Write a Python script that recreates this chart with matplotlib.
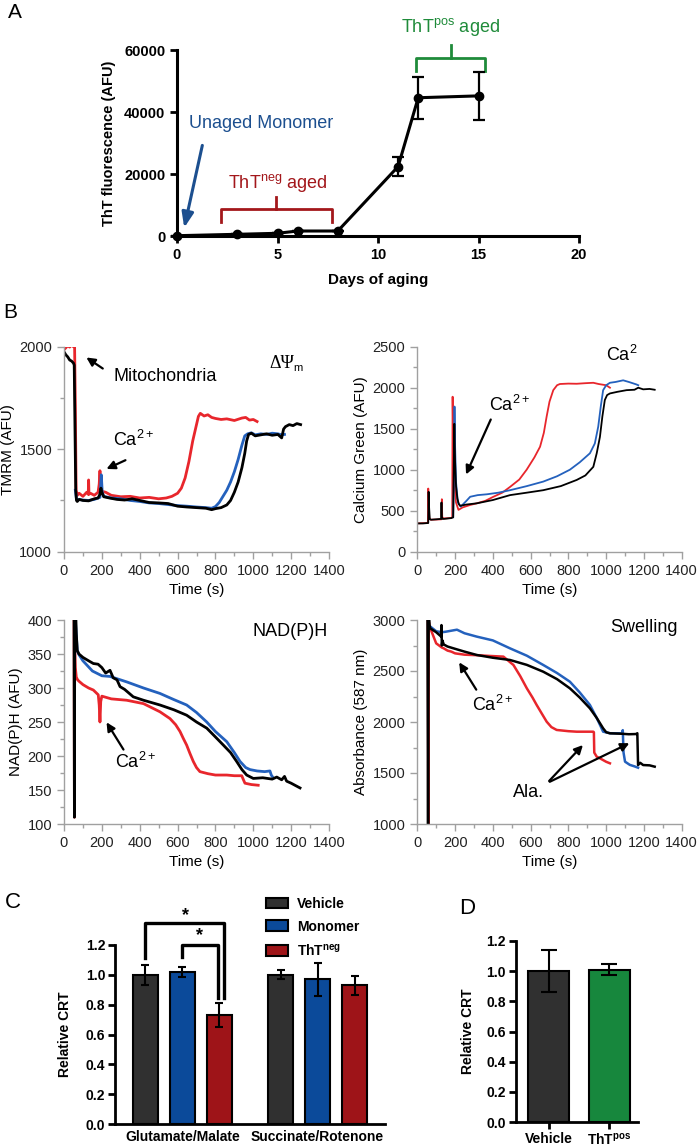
import matplotlib
matplotlib.use("Agg")
import matplotlib.pyplot as plt
from matplotlib.ticker import MultipleLocator, FormatStrFormatter

plt.rcParams['font.family'] = ['Liberation Sans', 'DejaVu Sans']
plt.rcParams['mathtext.fontset'] = 'custom'
plt.rcParams['mathtext.rm'] = 'Liberation Sans'
plt.rcParams['mathtext.bf'] = 'Liberation Sans:bold'
plt.rcParams['mathtext.it'] = 'Liberation Sans:italic'

# ---------------- Panel A data ----------------
days = [0, 3, 5, 6, 8, 11, 12, 15]
tht_mean = [100, 550, 870, 1610, 1610, 22400, 44600, 45200]
tht_err = [0, 0, 0, 0, 0, 3200, 6700, 7700]

# ---------------- Panel B data ----------------
dpsi_red_t = [0, 10, 20, 30, 40, 50, 56, 60, 64, 70, 80, 100, 120, 128, 130, 132, 140, 160, 180, 186, 190, 194, 200, 220, 250, 300, 350, 400, 450, 500, 540, 570, 600, 620, 640, 660, 680, 700, 710, 720, 740, 760, 780, 800, 830, 860, 900, 940, 960, 980, 1000, 1020]
dpsi_red_v = [1985, 1995, 2005, 1998, 2008, 2000, 2002, 1700, 1300, 1275, 1285, 1270, 1290, 1280, 1350, 1280, 1285, 1275, 1290, 1330, 1395, 1310, 1295, 1290, 1275, 1268, 1270, 1262, 1265, 1258, 1262, 1270, 1285, 1310, 1360, 1440, 1540, 1620, 1660, 1675, 1662, 1668, 1655, 1650, 1645, 1648, 1640, 1652, 1655, 1642, 1645, 1635]
dpsi_blue_t = [60, 66, 70, 80, 100, 130, 160, 190, 197, 202, 210, 250, 300, 350, 400, 450, 500, 550, 600, 650, 700, 750, 780, 800, 820, 840, 860, 880, 900, 920, 940, 955, 970, 990, 1010, 1040, 1070, 1100, 1130, 1150, 1165]
dpsi_blue_v = [1300, 1255, 1250, 1255, 1252, 1250, 1255, 1265, 1375, 1290, 1270, 1262, 1258, 1250, 1245, 1238, 1235, 1230, 1225, 1222, 1218, 1215, 1212, 1220, 1240, 1270, 1300, 1340, 1390, 1450, 1520, 1565, 1575, 1580, 1570, 1575, 1572, 1578, 1575, 1570, 1572]
dpsi_black_t = [0, 10, 20, 30, 40, 50, 54, 58, 62, 66, 70, 80, 100, 130, 160, 180, 190, 195, 200, 210, 240, 280, 320, 360, 400, 450, 500, 550, 600, 650, 700, 750, 780, 800, 830, 860, 880, 900, 920, 940, 955, 965, 975, 990, 1010, 1040, 1070, 1100, 1130, 1150, 1160, 1170, 1190, 1210, 1230, 1250]
dpsi_black_v = [1975, 1960, 1950, 1935, 1930, 1920, 1910, 1600, 1300, 1250, 1245, 1255, 1250, 1248, 1258, 1262, 1280, 1310, 1290, 1268, 1262, 1255, 1252, 1258, 1250, 1240, 1238, 1235, 1222, 1218, 1215, 1212, 1205, 1210, 1215, 1228, 1250, 1290, 1340, 1410, 1480, 1540, 1572, 1578, 1565, 1570, 1575, 1568, 1572, 1555, 1598, 1610, 1620, 1615, 1625, 1620]

ca_red_t = [0, 30, 56, 58, 60, 63, 66, 72, 100, 128, 130, 132, 140, 180, 185, 187, 190, 195, 205, 218, 240, 280, 315, 360, 403, 450, 491, 540, 579, 620, 650, 670, 685, 700, 720, 740, 755, 800, 844, 890, 932, 960, 1000, 1020]
ca_red_v = [345, 348, 350, 770, 600, 420, 395, 390, 392, 395, 640, 420, 405, 412, 420, 1890, 1400, 900, 600, 510, 540, 570, 590, 620, 670, 720, 790, 880, 1000, 1150, 1280, 1450, 1650, 1830, 1970, 2030, 2045, 2050, 2048, 2055, 2060, 2045, 2030, 2000]
ca_blue_t = [190, 194, 197, 200, 205, 215, 230, 260, 280, 320, 368, 430, 491, 580, 667, 740, 808, 860, 914, 940, 958, 972, 984, 1000, 1020, 1050, 1090, 1120, 1160, 1170]
ca_blue_v = [420, 900, 1770, 1300, 850, 600, 550, 620, 670, 690, 700, 720, 750, 800, 855, 920, 1000, 1090, 1200, 1320, 1525, 1780, 1970, 2030, 2060, 2070, 2090, 2070, 2040, 2030]
ca_black_t = [0, 30, 58, 60, 62, 66, 72, 100, 126, 128, 130, 133, 140, 180, 190, 193, 196, 200, 205, 212, 220, 227, 260, 315, 400, 491, 580, 667, 760, 844, 890, 932, 950, 967, 980, 993, 1005, 1020, 1060, 1108, 1150, 1170, 1196, 1230, 1257]
ca_black_v = [345, 345, 350, 730, 560, 400, 390, 395, 400, 600, 430, 400, 400, 410, 420, 1000, 1560, 1100, 800, 650, 580, 560, 575, 590, 630, 690, 720, 750, 800, 875, 930, 1035, 1200, 1400, 1650, 1850, 1910, 1930, 1950, 1970, 1975, 2000, 1980, 1985, 1975]

nad_red_t = [50, 53, 55, 56, 57, 60, 65, 72, 79, 100, 130, 155, 181, 186, 190, 194, 200, 250, 331, 420, 507, 560, 590, 613, 630, 648, 665, 683, 700, 718, 760, 800, 860, 900, 939, 948, 956, 990, 1026]
nad_red_v = [450, 420, 110, 400, 360, 330, 316, 312, 310, 305, 300, 297, 290, 275, 250, 280, 288, 284, 282, 277, 265, 255, 246, 236, 226, 216, 204, 192, 183, 177, 174, 172, 172, 171, 171, 165, 160, 158, 157]
nad_blue_t = [60, 70, 79, 100, 150, 200, 243, 331, 420, 507, 580, 648, 700, 754, 800, 860, 900, 930, 960, 983, 1020, 1060, 1088, 1095, 1100]
nad_blue_v = [400, 355, 349, 340, 325, 318, 317, 309, 300, 292, 283, 275, 264, 250, 236, 221, 205, 192, 183, 180, 178, 177, 178, 172, 170]
nad_black_t = [50, 53, 55, 57, 60, 65, 70, 79, 100, 130, 155, 180, 200, 220, 243, 260, 280, 296, 320, 366, 420, 507, 580, 648, 700, 754, 800, 842, 880, 912, 940, 965, 1000, 1050, 1100, 1124, 1150, 1165, 1176, 1200, 1220, 1247]
nad_black_v = [450, 420, 110, 450, 430, 380, 355, 350, 345, 340, 336, 335, 330, 322, 326, 315, 312, 302, 298, 287, 282, 275, 268, 260, 250, 241, 228, 216, 205, 192, 180, 172, 167, 168, 166, 169, 165, 170, 163, 160, 157, 153]

sw_red_t = [56, 58, 60, 65, 69, 100, 130, 140, 160, 180, 200, 250, 315, 380, 456, 509, 545, 580, 610, 632, 660, 685, 710, 738, 800, 844, 900, 932, 935, 937, 950, 967, 1000, 1020]
sw_red_v = [3100, 1000, 3000, 2940, 2918, 2771, 2730, 2722, 2700, 2690, 2673, 2660, 2655, 2648, 2641, 2559, 2450, 2330, 2240, 2167, 2080, 2003, 1950, 1922, 1910, 1905, 1905, 1905, 1900, 1700, 1660, 1644, 1610, 1595]
sw_blue_t = [60, 65, 69, 100, 130, 150, 180, 210, 250, 315, 400, 491, 580, 667, 740, 808, 860, 914, 950, 984, 1020, 1072, 1085, 1088, 1092, 1100, 1125, 1150, 1169]
sw_blue_v = [2950, 2940, 2935, 2890, 2880, 2885, 2895, 2905, 2870, 2837, 2800, 2722, 2650, 2559, 2480, 2395, 2290, 2167, 2040, 1905, 1890, 1889, 1885, 1920, 1700, 1611, 1580, 1565, 1552]
sw_black_t = [50, 54, 57, 60, 65, 69, 100, 125, 128, 130, 133, 140, 160, 192, 250, 315, 400, 491, 580, 667, 740, 808, 860, 914, 950, 984, 1000, 1020, 1080, 1120, 1160, 1165, 1169, 1180, 1196, 1230, 1257]
sw_black_v = [3100, 3050, 1000, 3100, 2950, 2918, 2880, 2840, 2950, 2750, 2800, 2760, 2740, 2722, 2690, 2657, 2630, 2608, 2560, 2493, 2420, 2330, 2240, 2134, 2040, 1938, 1900, 1889, 1885, 1880, 1882, 1890, 1578, 1600, 1578, 1575, 1562]

# ---------------- Panel C / D data ----------------
c_groups = ["Glutamate/Malate", "Succinate/Rotenone"]
c_series = ["Vehicle", "Monomer", "ThT$^{\\mathbf{neg}}$"]
c_means = [[1.00, 1.00], [1.02, 0.97], [0.73, 0.93]]
c_errs = [[0.065, 0.03], [0.035, 0.11], [0.08, 0.065]]
d_labels = ["Vehicle", "ThT$^{\\mathbf{pos}}$"]
d_means = [1.00, 1.01]
d_errs = [0.14, 0.035]

W, H = 700, 1148
fig = plt.figure(figsize=(7, 11.48), dpi=100)

def ax_px(x0, x1, ytop, ybot):
    return fig.add_axes([x0 / W, 1 - ybot / H, (x1 - x0) / W, (ybot - ytop) / H])

RED = '#a3171b'
GREEN = '#1f8b3a'
BLUE_A = '#1c4f8f'

# ================= Panel A =================
axA = ax_px(177, 579, 50, 236)
axA.errorbar(days, tht_mean, yerr=tht_err, color='black', lw=2.2, marker='o', ms=6,
             capsize=4, elinewidth=1.6, capthick=1.6, clip_on=False, zorder=3)
axA.set_xlim(0, 20)
axA.set_ylim(0, 60000)
axA.set_xticks([0, 5, 10, 15, 20])
axA.set_yticks([0, 20000, 40000, 60000])
for s in ['top', 'right']:
    axA.spines[s].set_visible(False)
for s in ['left', 'bottom']:
    axA.spines[s].set_linewidth(2.2)
axA.tick_params(width=2, length=5, labelsize=10.5)
for lab in axA.get_xticklabels() + axA.get_yticklabels():
    lab.set_fontweight('bold')
axA.set_xlabel('Days of aging', fontsize=11, fontweight='bold', labelpad=8)
axA.set_ylabel('ThT fluorescence (AFU)', fontsize=10.5, fontweight='bold', labelpad=6)
axA.text(4.19, 36450, 'Unaged Monomer', color=BLUE_A, fontsize=13, ha='center', va='center')
axA.annotate('', xy=(0.33, 1800), xytext=(1.29, 30100),
             arrowprops=dict(arrowstyle='-|>,head_length=0.9,head_width=0.35', color=BLUE_A, lw=2.2))
axA.text(5.0, 17200, 'ThT$^{\\mathrm{neg}}$ aged', color=RED, fontsize=13, ha='center', va='center')
axA.plot([2.2, 2.2, 7.71, 7.71], [4600, 8600, 8600, 4600], color=RED, lw=2, clip_on=False)
axA.plot([4.94, 4.94], [8600, 12700], color=RED, lw=2, clip_on=False)
axA.text(13.6, 67300, 'ThT$^{\\mathrm{pos}}$ aged', color=GREEN, fontsize=13, ha='center', va='center')
axA.plot([11.87, 11.87, 15.32, 15.32], [53200, 57300, 57300, 53200], color=GREEN, lw=2, clip_on=False)
axA.plot([13.61, 13.61], [57300, 61600], color=GREEN, lw=2, clip_on=False)

fig.text(8 / W, 1 - 13 / H, 'A', fontsize=15, va='center', ha='left')

# ================= Panel B =================
TRACE_RED = '#e8262c'
TRACE_BLUE = '#2461bd'
GRAY = '#a0a0a0'

def style_b(ax, ylim, ymajor, yminor, ylabel):
    ax.set_xlim(0, 1400)
    ax.set_ylim(*ylim)
    ax.xaxis.set_major_locator(MultipleLocator(200))
    ax.xaxis.set_minor_locator(MultipleLocator(100))
    ax.yaxis.set_major_locator(MultipleLocator(ymajor))
    ax.yaxis.set_minor_locator(MultipleLocator(yminor))
    for s in ['top', 'right']:
        ax.spines[s].set_visible(False)
    for s in ['left', 'bottom']:
        ax.spines[s].set_color(GRAY)
        ax.spines[s].set_linewidth(1)
    ax.tick_params(which='major', color=GRAY, length=5, width=1, labelsize=10.5, labelcolor='#222222')
    ax.tick_params(which='minor', color=GRAY, length=3, width=1)
    ax.set_xlabel('Time (s)', fontsize=11, labelpad=4)
    ax.set_ylabel(ylabel, fontsize=11, labelpad=3)

def traces(ax, data, lw):
    for t, v, c in data:
        ax.plot(t, v, color=c, lw=lw)

ARROW = dict(arrowstyle='-|>,head_length=0.5,head_width=0.25', color='black', lw=1.6)

# Top-left: membrane potential
ax1 = ax_px(64, 329, 346.7, 551.7)
traces(ax1, [(dpsi_red_t, dpsi_red_v, TRACE_RED), (dpsi_blue_t, dpsi_blue_v, TRACE_BLUE),
             (dpsi_black_t, dpsi_black_v, 'black')], 2.0)
style_b(ax1, (1000, 2000), 500, 250, 'TMRM (AFU)')
ax1.text(259, 1857, 'Mitochondria', fontsize=13, va='center', ha='left')
ax1.annotate('', xy=(106, 1955), xytext=(217, 1886), arrowprops=ARROW)
ax1.text(365, 1545, 'Ca$^{2+}$', fontsize=13, va='center', ha='center')
ax1.annotate('', xy=(211, 1398), xytext=(338, 1452), arrowprops=ARROW)
ax1.text(1150, 1920, '\u0394\u03a8', fontsize=13, family=['Liberation Serif', 'DejaVu Serif'],
         va='center', ha='center')
ax1.text(1238, 1895, 'm', fontsize=8, va='center', ha='center')

# Top-right: calcium
ax2 = ax_px(417.3, 681.7, 346.7, 551.7)
traces(ax2, [(ca_red_t, ca_red_v, TRACE_RED), (ca_blue_t, ca_blue_v, TRACE_BLUE),
             (ca_black_t, ca_black_v, 'black')], 1.3)
style_b(ax2, (0, 2500), 500, 250, 'Calcium Green (AFU)')
ax2.text(490, 1790, 'Ca$^{2+}$', fontsize=13, va='center', ha='center')
ax2.annotate('', xy=(252, 911), xytext=(395, 1643), arrowprops=ARROW)
ax2.text(1084, 2400, 'Ca$^{2}$', fontsize=13, va='center', ha='center')

# Bottom-left: NAD(P)H
ax3 = ax_px(64, 329, 620, 824)
traces(ax3, [(nad_red_t, nad_red_v, TRACE_RED), (nad_blue_t, nad_blue_v, TRACE_BLUE),
             (nad_black_t, nad_black_v, 'black')], 2.0)
style_b(ax3, (100, 400), 50, 25, 'NAD(P)H (AFU)')
ax3.text(1194, 383, 'NAD(P)H', fontsize=13, va='center', ha='center')
ax3.text(380, 191, 'Ca$^{2+}$', fontsize=13, va='center', ha='center')
ax3.annotate('', xy=(217, 253), xytext=(322, 206), arrowprops=ARROW)

# Bottom-right: swelling
ax4 = ax_px(417.3, 681.7, 620, 824)
traces(ax4, [(sw_red_t, sw_red_v, TRACE_RED), (sw_blue_t, sw_blue_v, TRACE_BLUE),
             (sw_black_t, sw_black_v, 'black')], 1.8)
style_b(ax4, (1000, 3000), 500, 250, 'Absorbance (587 nm)')
ax4.text(1200, 2931, 'Swelling', fontsize=13, va='center', ha='center')
ax4.text(400, 2167, 'Ca$^{2+}$', fontsize=13, va='center', ha='center')
ax4.annotate('', xy=(214, 2608), xytext=(320, 2294), arrowprops=ARROW)
ax4.text(587, 1304, 'Ala.', fontsize=13, va='center', ha='center')
for hx, hy in [(887, 1794), (1136, 1804)]:
    ax4.annotate('', xy=(hx, hy), xytext=(688, 1402), arrowprops=ARROW)

fig.text(3 / W, 1 - 313 / H, 'B', fontsize=15, va='center', ha='left')

# ================= Panel C =================
C_COLORS = ['#303030', '#0b4a9a', '#9e1418']
axC = ax_px(115, 385, 945, 1124)
group_pos = [0.0, 3.65]
bw = 0.68
for i, (name, col) in enumerate(zip(c_series, C_COLORS)):
    xs = [g + i for g in group_pos]
    axC.bar(xs, c_means[i], width=bw, color=col, edgecolor='black', lw=1.5, label=name, zorder=2)
    axC.errorbar(xs, c_means[i], yerr=c_errs[i], fmt='none', ecolor='black', elinewidth=1.5,
                 capsize=3, capthick=1.5, zorder=3)
axC.set_xlim(-0.82, 6.47)
axC.set_ylim(0, 1.2)
axC.set_yticks([0, 0.2, 0.4, 0.6, 0.8, 1.0, 1.2])
axC.yaxis.set_major_formatter(FormatStrFormatter('%.1f'))
axC.set_xticks([g + 1 for g in group_pos])
axC.set_xticklabels(c_groups)
for s in ['top', 'right']:
    axC.spines[s].set_visible(False)
for s in ['left', 'bottom']:
    axC.spines[s].set_linewidth(2)
axC.tick_params(axis='y', width=2, length=5, labelsize=10, pad=2)
axC.tick_params(axis='x', width=2, length=0, labelsize=10, pad=4)
for lab in axC.get_xticklabels() + axC.get_yticklabels():
    lab.set_fontweight('bold')
axC.set_ylabel('Relative CRT', fontsize=10, fontweight='bold', labelpad=10)
# significance brackets
axC.plot([0, 0, 2.12, 2.12], [1.11, 1.348, 1.348, 0.845], color='black', lw=2.4, clip_on=False)
axC.plot([1, 1, 1.96, 1.96], [1.12, 1.2, 1.2, 0.845], color='black', lw=2.4, clip_on=False)
axC.text(1.07, 1.40, '*', fontsize=13, fontweight='bold', ha='center', va='center')
axC.text(1.47, 1.26, '*', fontsize=13, fontweight='bold', ha='center', va='center')
axC.legend(loc='upper left', bbox_to_anchor=(266 / W, 1 - 897 / H), bbox_transform=fig.transFigure,
           frameon=False, prop={'weight': 'bold', 'size': 10}, handlelength=1.55, handleheight=0.8,
           labelspacing=0.62, borderpad=0, borderaxespad=0, handletextpad=0.7)
fig.text(5 / W, 1 - 903 / H, 'C', fontsize=16, va='center', ha='left')

# ================= Panel D =================
D_COLORS = ['#303030', '#17873d']
axD = ax_px(515.7, 638, 941, 1122)
dx = list(range(len(d_labels)))
axD.bar(dx, d_means, width=0.67, color=D_COLORS, edgecolor='black', lw=1.5, zorder=2)
axD.errorbar(dx, d_means, yerr=d_errs, fmt='none', ecolor='black', elinewidth=1.5,
             capsize=6, capthick=1.5, zorder=3)
axD.set_xlim(-0.54, 1.47)
axD.set_ylim(0, 1.2)
axD.set_yticks([0, 0.2, 0.4, 0.6, 0.8, 1.0, 1.2])
axD.yaxis.set_major_formatter(FormatStrFormatter('%.1f'))
axD.set_xticks(dx)
axD.set_xticklabels(d_labels)
for s in ['top', 'right']:
    axD.spines[s].set_visible(False)
for s in ['left', 'bottom']:
    axD.spines[s].set_linewidth(2)
axD.tick_params(width=2, length=5, labelsize=10, pad=2)
for lab in axD.get_xticklabels() + axD.get_yticklabels():
    lab.set_fontweight('bold')
axD.set_ylabel('Relative CRT', fontsize=10, fontweight='bold', labelpad=8)
fig.text(467 / W, 1 - 908 / H, 'D', fontsize=16, va='center', ha='center')

fig.savefig('out.png', dpi=100)
